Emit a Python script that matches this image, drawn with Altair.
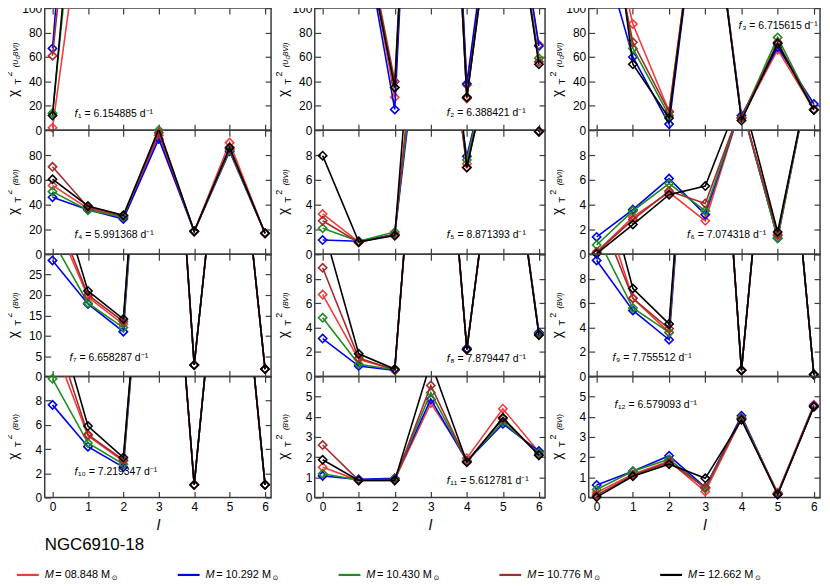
import altair as alt
import pandas as pd

L_VALUES = [0, 1, 2, 3, 4, 5, 6]
MASSES = ["08.848", "10.292", "10.430", "10.776", "12.662"]
COLORS = ["#f23c3c", "#0000f0", "#1e8c1e", "#a52a2a", "#000000"]
FONT = "Liberation Sans"
NB = "\u00a0"

# each panel: [M=08.848 (red), 10.292 (blue), 10.430 (green), 10.776 (brown), 12.662 (black)]
chi_f1 = [
    [2, 215, 520, 640, 560, 520, 470],
    [67, 430, 600, 700, 640, 600, 540],
    [14, 300, 540, 650, 580, 540, 490],
    [61, 340, 560, 670, 600, 560, 510],
    [12, 330, 550, 660, 590, 550, 500],
]
chi_f2 = [
    [300, 190, 27, 600, 37, 250, 70],
    [300, 185, 17, 620, 38, 260, 69],
    [300, 185, 35, 600, 27, 250, 59],
    [300, 190, 40, 600, 26, 250, 56],
    [300, 183, 35, 600, 27, 250, 54],
]
chi_f3 = [
    [213, 87, 15.5, 240, 10, 66, 17],
    [164, 60, 5, 240, 12, 68, 21.5],
    [230, 67, 12, 240, 10, 76, 17],
    [220, 72, 15, 240, 10, 72, 17],
    [280, 54, 10, 240, 8, 71, 16.5],
]
chi_f4 = [
    [55.5, 37, 30, 96, 18.5, 90, 17],
    [46, 36, 28.5, 93, 18.5, 83, 17],
    [50.5, 35.5, 30, 100, 18.5, 84, 17],
    [70.5, 38, 31, 98, 18.5, 85, 17],
    [60.5, 39, 31.5, 101, 18.5, 86, 17],
]
chi_f5 = [
    [3.25, 1.0, 1.6, 28, 7.3, 20, 9.9],
    [1.15, 1.05, 1.6, 26, 7.9, 20, 9.9],
    [2.1, 1.05, 1.8, 27, 7.6, 20, 9.9],
    [2.7, 0.95, 1.6, 30, 7.0, 20, 9.9],
    [7.95, 1.0, 1.5, 38, 7.0, 20, 9.9],
]
chi_f6 = [
    [0.2, 3.0, 5.0, 2.7, 12, 1.5, 16],
    [1.4, 3.6, 6.1, 3.2, 12, 1.3, 16],
    [0.75, 3.5, 5.7, 3.5, 12, 1.3, 16],
    [0.15, 2.8, 5.1, 4.1, 12, 1.6, 16],
    [0.05, 2.4, 4.8, 5.5, 13, 1.8, 16],
]
chi_f7 = [
    [40, 19.5, 12.8, 130, 2.8, 85, 1.8],
    [28.5, 17.8, 11, 130, 2.8, 85, 1.8],
    [33.5, 18, 12, 130, 2.8, 85, 1.8],
    [42, 20, 13.5, 130, 2.8, 85, 1.8],
    [50, 21, 14.1, 130, 2.8, 85, 1.8],
]
chi_f8 = [
    [6.7, 1.4, 0.55, 38, 2.2, 25, 3.5],
    [3.1, 0.85, 0.5, 38, 2.3, 25, 3.6],
    [4.8, 1.0, 0.55, 38, 2.2, 25, 3.5],
    [8.9, 1.5, 0.55, 38, 2.2, 25, 3.4],
    [12.4, 1.85, 0.6, 38, 2.2, 25, 3.4],
]
chi_f9 = [
    [15.5, 6.4, 3.6, 43, 0.5, 32, 0.15],
    [9.5, 5.4, 3.0, 43, 0.5, 32, 0.15],
    [11.5, 5.6, 3.6, 43, 0.5, 32, 0.15],
    [13.8, 6.4, 3.9, 43, 0.5, 32, 0.15],
    [18.4, 7.2, 4.3, 43, 0.5, 32, 0.15],
]
chi_f10 = [
    [12.8, 5.1, 3.0, 38, 1.05, 31, 1.05],
    [7.65, 4.2, 2.5, 38, 1.05, 31, 1.05],
    [9.8, 4.5, 2.75, 38, 1.05, 31, 1.05],
    [14.2, 5.2, 3.1, 38, 1.05, 31, 1.05],
    [16.2, 5.9, 3.3, 38, 1.05, 31, 1.05],
]
chi_f11 = [
    [1.5, 0.85, 0.88, 4.68, 1.95, 4.4, 2.25],
    [1.07, 0.9, 0.95, 4.87, 1.8, 3.65, 2.3],
    [1.18, 0.87, 0.9, 5.2, 1.8, 3.75, 2.2],
    [2.6, 0.85, 0.85, 5.55, 1.8, 3.9, 2.1],
    [1.87, 0.85, 0.85, 6.7, 1.75, 3.95, 2.1],
]
chi_f12 = [
    [0.25, 1.15, 1.8, 0.3, 3.9, 0.25, 4.6],
    [0.62, 1.3, 2.07, 0.5, 4.05, 0.15, 4.55],
    [0.4, 1.3, 1.9, 0.45, 3.95, 0.2, 4.5],
    [0.12, 1.1, 1.75, 0.5, 3.9, 0.2, 4.5],
    [0.02, 1.05, 1.65, 0.95, 3.85, 0.15, 4.5],
]

PANELS = [chi_f1, chi_f2, chi_f3, chi_f4, chi_f5, chi_f6,
          chi_f7, chi_f8, chi_f9, chi_f10, chi_f11, chi_f12]
F_SUB = ["₁", "₂", "₃", "₄", "₅", "₆", "₇", "₈", "₉", "₁₀", "₁₁", "₁₂"]
F_VAL = ["6.154885", "6.388421", "6.715615", "5.991368", "8.871393", "7.074318",
         "6.658287", "7.879447", "7.755512", "7.219347", "5.612781", "6.579093"]
Y_MAX = [100, 100, 100, 100, 10, 10, 30, 10, 10, 10, 6, 6]
Y_STEP = [20, 20, 20, 20, 2, 2, 5, 2, 2, 2, 1, 1]
Y_LABEL = ["U", "U", "U", "B", "B", "B", "B", "B", "B", "B", "B", "B"]

# layout (pixels)
COL_W = [228, 232, 233]
ROW_H = [123, 125, 123, 122]
F_POS = [(30, 106), (133, 105), (151, 18), (30, 105), (133, 105), (99, 105),
         (25, 104), (133, 105), (24, 104), (30, 96), (133, 105), (26, 28)]

ONE = pd.DataFrame({"k": [0]})

ARIAL_W = {"0": .556, "1": .556, "2": .556, "3": .556, "4": .556, "5": .556, "6": .556,
           "7": .556, "8": .556, "9": .556, ".": .278, " ": .278, NB: .278, "=": .584,
           "d": .556, "(": .333, ")": .333, "U": .722, "B": .667, "V": .667, "I": .278,
           "M": .833}


def tw(s, size):
    return sum(ARIAL_W.get(c, .6) for c in s) * size


def txt(text, x, y, size, dx=0.0, dy=0.0, italic=False, angle=0, font=FONT):
    return alt.Chart(ONE).mark_text(
        text=text, align="left", baseline="alphabetic", font=font, fontSize=size,
        fontStyle="italic" if italic else "normal", dx=dx, dy=dy, angle=angle, color="black"
    ).encode(x=alt.value(x), y=alt.value(y))


def panel(i, row, col):
    vals = PANELS[i]
    ymax = Y_MAX[i]
    w, h = COL_W[col], ROW_H[row]
    bottom = row == 3
    ticks_all = [round(k * Y_STEP[i], 3) for k in range(int(round(ymax / Y_STEP[i])) + 1)]
    ticks_lab = ticks_all if row == 0 else ticks_all[:-1]

    xs = alt.Scale(domain=[-0.22, 6.17], nice=False, zero=False)
    ys = alt.Scale(domain=[0, ymax], nice=False, zero=False)

    ax_b = alt.Axis(values=L_VALUES, orient="bottom", offset=-6, tickSize=6, domain=False,
                    grid=False, labels=bottom, labelPadding=4, labelFontSize=12,
                    title="l" if bottom else "", titleFontStyle="italic", titleFontSize=15,
                    titleFontWeight="normal", titlePadding=5)
    ax_l = alt.Axis(values=ticks_lab, orient="left", offset=-6, tickSize=6, domain=False,
                    grid=False, labelPadding=3, labelFontSize=12, title="")
    ax_t = alt.Axis(values=L_VALUES, orient="top", offset=-6, tickSize=6, domain=False,
                    grid=False, labels=False, title="")
    ax_r = alt.Axis(values=ticks_all, orient="right", offset=-6, tickSize=6, domain=False,
                    grid=False, labels=False, title="")

    layers = []
    df0 = pd.DataFrame({"l": L_VALUES, "chi": vals[0]})
    layers.append(alt.Chart(df0).mark_line(clip=True, strokeOpacity=0).encode(
        x=alt.X("l:Q", scale=xs, axis=ax_b), y=alt.Y("chi:Q", scale=ys, axis=ax_l)))
    layers.append(alt.Chart(df0).mark_line(clip=True, strokeOpacity=0).encode(
        x=alt.X("l:Q", scale=xs, axis=ax_t), y=alt.Y("chi:Q", scale=ys, axis=ax_r)))

    for s, series in enumerate(vals):
        df = pd.DataFrame({"l": L_VALUES, "chi": series})
        layers.append(alt.Chart(df).mark_line(clip=True, strokeWidth=1.6, color=COLORS[s]).encode(
            x=alt.X("l:Q", scale=xs, axis=None), y=alt.Y("chi:Q", scale=ys, axis=None)))
        dfp = df[df["chi"] <= ymax * 1.0001]
        if len(dfp):
            layers.append(alt.Chart(dfp).mark_point(
                shape="diamond", filled=False, size=70, strokeWidth=1.6, color=COLORS[s],
                opacity=1, clip=False).encode(
                x=alt.X("l:Q", scale=xs, axis=None), y=alt.Y("chi:Q", scale=ys, axis=None)))

    # frequency annotation: f_n = value d^-1
    fx, fy = F_POS[i]
    fb = fy + 3.5
    rest = F_SUB[i] + NB + "=" + NB + F_VAL[i] + NB + "d⁻¹"
    layers += [
        txt("f", fx, fb, 11, italic=True),
        txt(rest, fx, fb, 10.5, dx=3.6),
    ]

    # rotated y title: chi_T^2 (U_G BVI) / chi_T^2 (BVI)
    if Y_LABEL[i] == "U":
        total = 30 + tw("(U", 7) + 0.55 * 5.5 + tw(" BVI)", 7)
    else:
        total = 30 + tw("(BVI)", 7)
    ty = h / 2 + total / 2
    tx = -27
    layers += [
        txt("χ", tx, ty, 14, angle=270),
        txt("T", tx, ty, 10, dx=12.5, dy=3.5, angle=270),
        txt("2", tx, ty, 9, dx=20.5, dy=-6, angle=270),
    ]
    if Y_LABEL[i] == "U":
        g_dx = 30 + tw("(U", 7) + 0.3
        layers += [
            txt("(U", tx, ty, 7, dx=30, italic=True, angle=270),
            txt("G", tx, ty, 5.5, dx=g_dx, dy=2, angle=270),
            txt(NB + "BVI)", tx, ty, 7, dx=g_dx + 0.62 * 5.5, italic=True, angle=270),
        ]
    else:
        layers.append(txt("(BVI)", tx, ty, 7, dx=30, italic=True, angle=270))

    return alt.layer(*layers).resolve_axis(x="independent", y="independent").properties(
        width=w, height=h)


panels = [panel(3 * r + c, r, c) for r in range(4) for c in range(3)]

# bottom area: name and legend (placed in the first column below the grid)
leg = pd.DataFrame({"mass": MASSES, "label": [NB + "=" + NB + m + NB + "M" for m in MASSES]})
lx = alt.X("mass:N", scale=alt.Scale(type="point", domain=MASSES, range=[-17, 631], padding=0),
           axis=None)
LEG_Y = 78
LEG_FS = 11
M_W = tw("M", LEG_FS) + 1.5
legend_lines = alt.Chart(leg).mark_point(shape="stroke", size=484, strokeWidth=2.2,
                                         filled=False, opacity=1).encode(
    x=lx, y=alt.value(LEG_Y),
    color=alt.Color("mass:N", scale=alt.Scale(domain=MASSES, range=COLORS), legend=None))
leg_m = alt.Chart(leg).mark_text(text="M", align="left", baseline="middle", font=FONT,
                                 fontSize=LEG_FS, fontStyle="italic", dx=17, color="black").encode(
    x=lx, y=alt.value(LEG_Y))
leg_t = alt.Chart(leg).mark_text(align="left", baseline="middle", font=FONT, fontSize=LEG_FS,
                                 dx=17 + M_W, color="black").encode(
    x=lx, y=alt.value(LEG_Y), text="label:N")
leg_sun = alt.Chart(leg).mark_text(text="⊙", align="left", baseline="middle", font="DejaVu Sans",
                                   fontSize=7,
                                   dx=17 + M_W + tw(NB + "=" + NB + "08.848" + NB + "M", LEG_FS) - 1.5,
                                   dy=3, color="black").encode(x=lx, y=alt.value(LEG_Y))
name = alt.Chart(ONE).mark_text(text="NGC6910-18", align="left", baseline="middle", font=FONT,
                                fontSize=17, color="black").encode(x=alt.value(0), y=alt.value(48))
bottom_area = alt.layer(legend_lines, leg_m, leg_t, leg_sun, name).properties(
    width=COL_W[0], height=80, view=alt.ViewBackground(stroke="transparent"))

chart = alt.concat(*panels, bottom_area, columns=3, spacing={"row": 0, "column": 44},
                   bounds="flush").properties(
    padding={"left": -4, "top": -9, "right": 0, "bottom": 0}
).configure_view(
    stroke="#3c3c3c", strokeWidth=1.5
).configure_axis(
    labelFont=FONT, titleFont=FONT, labelColor="black", titleColor="black",
    tickColor="#3c3c3c", tickWidth=1.2
)

chart.save("out.html", embed_options={"renderer": "svg", "actions": False})
